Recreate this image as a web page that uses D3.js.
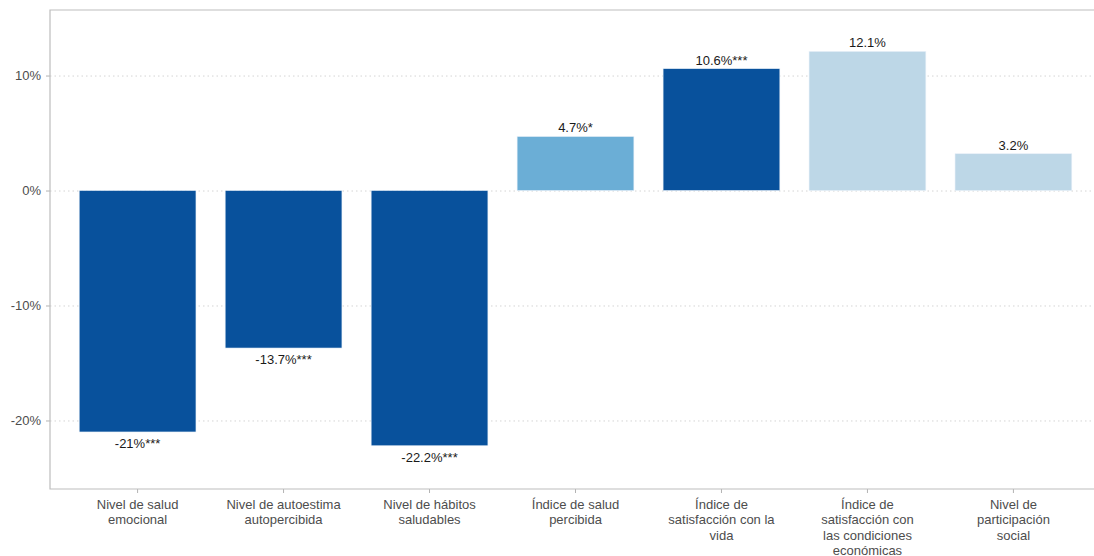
<!DOCTYPE html>
<meta charset="utf-8">
<style>
    body { margin: 0; background: #fff; }
    .tick text { font: 13px "Liberation Sans", Arial, sans-serif; fill: #4d4d4d; }
    .barlabel { font: 13px "Liberation Sans", Arial, sans-serif; fill: #1a1a1a; }
    .grid { stroke: #d4d4d4; stroke-dasharray: 1.5, 3; }
</style>
<body>
<script src="https://d3js.org/d3.v7.min.js"></script>
<script>
    // data
    var categories = [
        ["Nivel de salud", "emocional"],
        ["Nivel de autoestima", "autopercibida"],
        ["Nivel de hábitos", "saludables"],
        ["Índice de salud", "percibida"],
        ["Índice de", "satisfacción con la", "vida"],
        ["Índice de", "satisfacción con", "las condiciones", "económicas"],
        ["Nivel de", "participación", "social"]
    ];
    var values = [-21, -13.7, -22.2, 4.7, 10.6, 12.1, 3.2];
    var stars = ["***", "***", "***", "*", "***", "", ""];
    var yTicks = [10, 0, -10, -20];
    // fill by significance level
    var fills = ["#08519c", "#08519c", "#08519c", "#6baed6", "#08519c", "#bdd7e7", "#bdd7e7"];

    var width = 1094, height = 556;
    var margin = { top: 10, right: -7, bottom: 67, left: 50 };

    var svg = d3.select("body").append("svg")
        .attr("width", width)
        .attr("height", height);

    var x = d3.scaleBand()
        .domain(d3.range(categories.length))
        .range([margin.left, width - margin.right])
        .paddingInner(0.2)
        .paddingOuter(0.2);

    var y = d3.scaleLinear()
        .domain([-25.96, 15.7])
        .range([height - margin.bottom, margin.top]);

    // gridlines
    svg.append("g")
        .selectAll("line")
        .data(yTicks)
        .enter().append("line")
        .attr("class", "grid")
        .attr("x1", margin.left)
        .attr("x2", width - margin.right)
        .attr("y1", d => y(d) + 0.5)
        .attr("y2", d => y(d) + 0.5);

    // bars
    svg.append("g")
        .selectAll("rect")
        .data(values)
        .enter().append("rect")
        .attr("x", (d, i) => x(i))
        .attr("width", x.bandwidth())
        .attr("y", d => y(Math.max(0, d)))
        .attr("height", d => Math.abs(y(d) - y(0)))
        .attr("fill", (d, i) => fills[i])
        .attr("stroke", "#e8f0f8")
        .attr("stroke-width", 0.6);

    // value labels
    svg.append("g")
        .selectAll("text")
        .data(values)
        .enter().append("text")
        .attr("class", "barlabel")
        .attr("text-anchor", "middle")
        .attr("x", (d, i) => x(i) + x.bandwidth() / 2)
        .attr("y", d => d >= 0 ? y(d) - 4 : y(d) + 16)
        .text((d, i) => d + "%" + stars[i]);

    // y axis
    var yAxis = svg.append("g")
        .attr("transform", "translate(" + margin.left + ",0)")
        .call(d3.axisLeft(y).tickValues(yTicks).tickSize(4).tickPadding(5)
            .tickFormat(d => d + "%"));
    yAxis.select(".domain").remove();
    yAxis.selectAll(".tick line").attr("stroke", "#b3b3b3");

    // x axis
    var xAxis = svg.append("g")
        .attr("transform", "translate(0," + (height - margin.bottom) + ")")
        .call(d3.axisBottom(x).tickSize(4).tickFormat(""));
    xAxis.select(".domain").remove();
    xAxis.selectAll(".tick line").attr("stroke", "#b3b3b3");
    xAxis.selectAll(".tick").append("text")
        .attr("fill", "#4d4d4d")
        .attr("text-anchor", "middle")
        .selectAll("tspan")
        .data((d, i) => categories[i])
        .enter().append("tspan")
        .attr("x", 0)
        .attr("y", (d, j) => 20 + j * 15.3)
        .text(d => d);

    // panel border: top, left, bottom
    var border = svg.append("g")
        .attr("stroke", "#bdbdbd")
        .attr("stroke-width", 1.2)
        .attr("fill", "none");
    border.append("path")
        .attr("d", "M" + (width - margin.right) + "," + margin.top +
            "H" + margin.left +
            "V" + (height - margin.bottom) +
            "H" + (width - margin.right));
</script>
</body>
